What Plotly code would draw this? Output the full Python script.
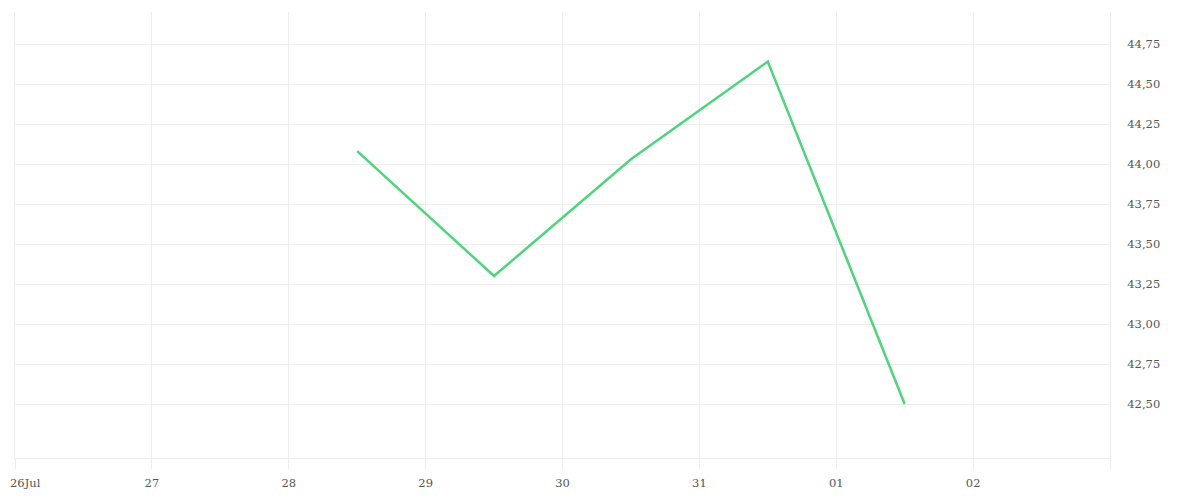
import plotly.graph_objects as go

# données
dates = ["2024-07-28 12:00", "2024-07-29 12:00", "2024-07-30 12:00",
         "2024-07-31 12:00", "2024-08-01 12:00"]
valeurs = [44.08, 43.30, 44.03, 44.64, 42.50]

tick_dates = ["2024-07-26", "2024-07-27", "2024-07-28", "2024-07-29",
              "2024-07-30", "2024-07-31", "2024-08-01", "2024-08-02", "2024-08-03"]
tick_labels = ["", "27", "28", "29", "30", "31", "01", "02", ""]
premier_label = "26Jul"  # placé en annotation pour ne pas être coupé au bord

y_ticks = [42.5, 42.75, 43.0, 43.25, 43.5, 43.75, 44.0, 44.25, 44.5, 44.75]

fig = go.Figure()
fig.add_trace(go.Scatter(x=dates, y=valeurs, mode="lines",
                         line=dict(color="#4cd67b", width=2.5)))

fig.update_layout(
    width=1200, height=500,
    margin=dict(l=7, r=98, t=4, b=50),
    paper_bgcolor="white", plot_bgcolor="white",
    separators=",.",
    showlegend=False,
    font=dict(family="DejaVu Serif", size=11.5, color="#555"),
)
fig.update_xaxes(
    range=["2024-07-26", "2024-08-03"],
    tickvals=tick_dates, ticktext=tick_labels,
    showgrid=True, gridcolor="#eeeeee", gridwidth=1,
    ticks="outside", ticklen=10, tickcolor="#eeeeee",
    showline=True, linecolor="#eeeeee", linewidth=1,
    zeroline=False, automargin=False, ticklabelstandoff=4,
)
fig.update_yaxes(
    side="right", range=[42.1625, 44.95],
    tickvals=y_ticks, tickformat=".2f",
    showgrid=True, gridcolor="#eeeeee", gridwidth=1,
    ticks="outside", ticklen=14, tickcolor="rgba(0,0,0,0)",
    showline=True, mirror=True, linecolor="#eeeeee", linewidth=1,
    zeroline=False, automargin=False,
)

fig.add_annotation(
    text=premier_label, xref="paper", yref="paper", x=0, y=0,
    xanchor="left", yanchor="middle", xshift=-7, yshift=-25,
    showarrow=False,
)

fig.write_html("out.html")
